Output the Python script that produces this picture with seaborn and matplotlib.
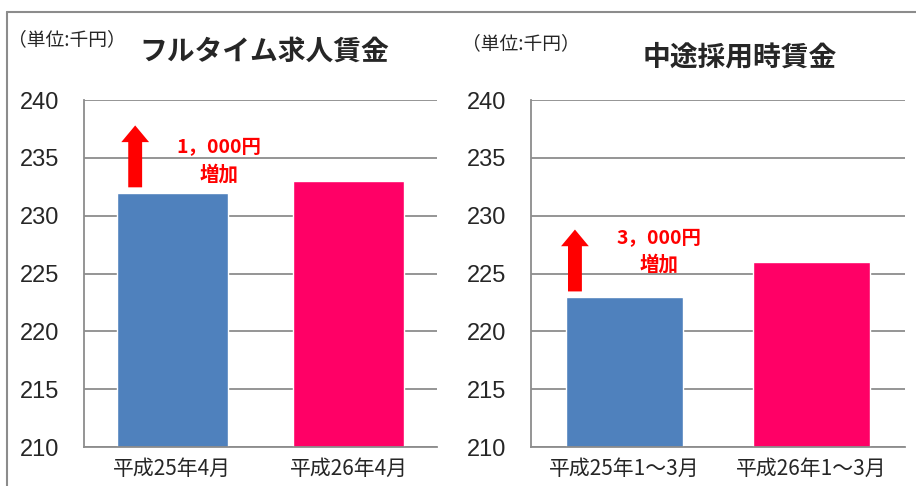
import matplotlib
matplotlib.use('Agg')
import pandas as pd
from matplotlib import pyplot as plt
from matplotlib.lines import Line2D
import seaborn as sns

# data (unit: thousand yen)
full_labels = ['平成25年4月', '平成26年4月']
full_values = [232, 233]
mid_labels = ['平成25年1～3月', '平成26年1～3月']
mid_values = [223, 226]
bar_colors = ['#4f81bd', '#ff0066']
titles = ['フルタイム求人賃金', '中途採用時賃金']
increase_amounts = ['1，000円', '3，000円']

sns.set_style('white')
plt.rcParams['font.family'] = ['Noto Sans CJK JP', 'DejaVu Sans']

W, H = 916, 486
fig = plt.figure(figsize=(W / 100, H / 100), dpi=100)


def px_rect(x0, y0, x1, y1):
    return [x0 / W, 1 - y1 / H, (x1 - x0) / W, (y1 - y0) / H]


def fy(y):
    return 1 - y / H


# outer frame lines
fig.add_artist(Line2D([7 / W, 7 / W], [0, fy(12)], color='#8c8c8c', lw=1.5))
fig.add_artist(Line2D([7 / W, 1], [fy(12), fy(12)], color='#8c8c8c', lw=1.5))

panels = [
    dict(labels=full_labels, values=full_values, rect=px_rect(84, 100, 437, 447),
         title=titles[0], title_xy=(264, 52), unit_xy=(8, 40),
         arrow_x=-0.21, text_x=219, text_y=(148, 175), amount=increase_amounts[0]),
    dict(labels=mid_labels, values=mid_values, rect=px_rect(531, 100, 905, 447),
         title=titles[1], title_xy=(740, 58), unit_xy=(462, 44),
         arrow_x=-0.265, text_x=659, text_y=(239, 265), amount=increase_amounts[1]),
]

for p in panels:
    ax = fig.add_axes(p['rect'])
    df = pd.DataFrame({'period': p['labels'], 'wage': p['values']})
    sns.barplot(data=df, x='period', y='wage', hue='period', palette=bar_colors,
                width=0.63, legend=False, ax=ax, saturation=1)
    ax.set_ylim(210, 240)
    ax.set_yticks(range(210, 241, 5))
    ax.set_xlim(-0.5, 1.5)
    ax.set_xlabel('')
    ax.set_ylabel('')
    ax.grid(axis='y', color='#8c8c8c', lw=1.3)
    ax.set_axisbelow(True)
    for s in ['top', 'right']:
        ax.spines[s].set_visible(False)
    for s in ['left', 'bottom']:
        ax.spines[s].set_color('#8c8c8c')
        ax.spines[s].set_linewidth(1.3)
    ax.tick_params(axis='y', length=5, color='#8c8c8c', width=1.3, labelsize=17, pad=13)
    for lab in ax.get_yticklabels():
        lab.set_fontfamily('Liberation Sans')
    # category ticks sit on the boundaries
    ax.set_xticks([-0.5, 0.5, 1.5], minor=True)
    ax.tick_params(axis='x', which='minor', length=6, color='#8c8c8c', width=1.3)
    ax.tick_params(axis='x', which='major', length=0, labelsize=15, pad=8)

    # red arrow showing the increase
    v0 = p['values'][0]
    ax.annotate('', xy=(p['arrow_x'], v0 + 5.8), xytext=(p['arrow_x'], v0 + 0.45),
                arrowprops=dict(arrowstyle='simple,head_width=1.0,head_length=0.6,tail_width=0.5',
                                mutation_scale=20, color='red', lw=0, shrinkA=0, shrinkB=0),
                annotation_clip=False)
    fig.text(p['text_x'] / W, fy(p['text_y'][0]), p['amount'], color='red',
             fontsize=14, fontweight='bold', ha='center', va='center')
    fig.text(p['text_x'] / W, fy(p['text_y'][1]), '増加', color='red',
             fontsize=14, fontweight='bold', ha='center', va='center')

    fig.text(p['title_xy'][0] / W, fy(p['title_xy'][1]), p['title'], fontsize=20,
             fontweight='bold', ha='center', va='center')
    fig.text(p['unit_xy'][0] / W, fy(p['unit_xy'][1]), '（単位:千円）', fontsize=13.5,
             ha='left', va='center')

fig.savefig('out.png', dpi=100)
